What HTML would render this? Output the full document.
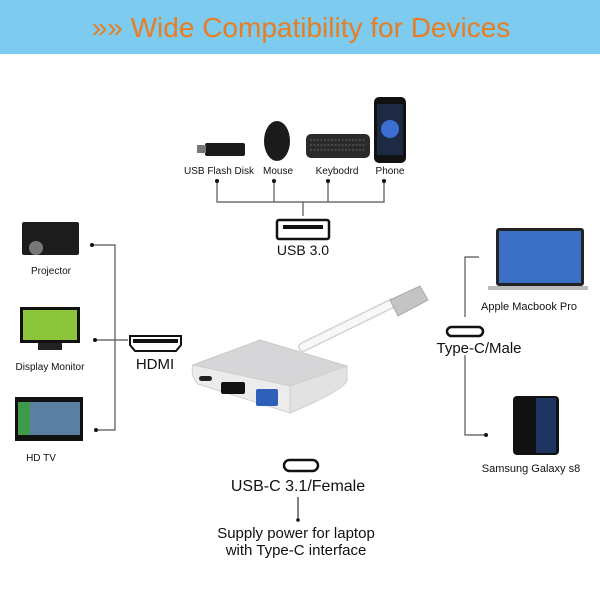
<!DOCTYPE html>
<html><head><meta charset="utf-8"><style>
html,body{margin:0;padding:0;background:#fff;}
svg{display:block;}
text{font-family:"Liberation Sans",sans-serif;}
</style></head><body>
<svg width="600" height="600" viewBox="0 0 600 600" xmlns="http://www.w3.org/2000/svg">
<rect x="0" y="0" width="600" height="600" fill="#fff"/>
<rect x="0" y="0" width="600" height="54" fill="#7dcbef"/>
<text x="301" y="37" text-anchor="middle" font-size="28" fill="#e87d22">&#187;&#187; Wide Compatibility for Devices</text>

<!-- top devices -->
<g>
<rect x="205" y="143" width="40" height="13" rx="2" fill="#1a1a1a"/>
<rect x="197" y="145" width="9" height="8" fill="#777"/>
<ellipse cx="277" cy="141" rx="13" ry="20" fill="#1b1b1b"/>
<rect x="306" y="134" width="64" height="24" rx="5" fill="#2a2a2a"/>
<path d="M310 140H366M310 145H366M310 150H366" stroke="#666" stroke-width="1" stroke-dasharray="2 1.5"/>
<rect x="374" y="97" width="32" height="66" rx="5" fill="#111"/>
<rect x="377" y="104" width="26" height="51" fill="#1e2a44"/>
<circle cx="390" cy="129" r="9" fill="#3b6fd4"/>
</g>
<g font-size="10" fill="#111" text-anchor="middle">
<text x="219" y="174">USB Flash Disk</text>
<text x="278" y="174">Mouse</text>
<text x="337" y="174">Keybodrd</text>
<text x="390" y="174">Phone</text>
</g>
<g stroke="#555" stroke-width="1.2" fill="none">
<path d="M217 181V202H384V181M274 181V202M328 181V202M303 202V216"/>
</g>
<g fill="#111"><circle cx="217" cy="181" r="2"/><circle cx="274" cy="181" r="2"/><circle cx="328" cy="181" r="2"/><circle cx="384" cy="181" r="2"/></g>
<rect x="277" y="220" width="52" height="19" rx="2" fill="none" stroke="#111" stroke-width="2.5"/>
<rect x="283" y="225" width="40" height="4" fill="#111"/>
<text x="303" y="255" text-anchor="middle" font-size="14" fill="#111">USB 3.0</text>

<!-- left devices -->
<rect x="22" y="222" width="57" height="33" rx="2" fill="#1c1c1c"/>
<circle cx="36" cy="248" r="7" fill="#777"/>
<rect x="20" y="307" width="60" height="36" fill="#111"/>
<rect x="23" y="310" width="54" height="30" fill="#8cc43a"/>
<rect x="38" y="343" width="24" height="7" fill="#222"/>
<rect x="15" y="397" width="68" height="44" fill="#111"/>
<rect x="18" y="402" width="62" height="33" fill="#5a7fa0"/>
<rect x="18" y="402" width="12" height="33" fill="#3c9a48"/>
<g font-size="10" fill="#111" text-anchor="middle">
<text x="51" y="274">Projector</text>
<text x="50" y="370">Display Monitor</text>
<text x="41" y="461">HD TV</text>
</g>
<path d="M92 245H115V430H96M95 340H128" stroke="#555" stroke-width="1.2" fill="none"/>
<g fill="#111"><circle cx="92" cy="245" r="2"/><circle cx="95" cy="340" r="2"/><circle cx="96" cy="430" r="2"/></g>
<path d="M130 336H181V345L176 351H135L130 345Z" fill="none" stroke="#111" stroke-width="2"/>
<rect x="133" y="339" width="45" height="4" fill="#111"/>
<text x="155" y="369" text-anchor="middle" font-size="15" fill="#111">HDMI</text>

<!-- adapter -->
<path d="M303 347L393 303" stroke="#d4d4d4" stroke-width="10" stroke-linecap="round"/>
<path d="M303 347L393 303" stroke="#f8f8f8" stroke-width="7" stroke-linecap="round"/>
<path d="M390 300L420 286L428 300L398 316Z" fill="#c4c4c4" stroke="#aaa"/>
<path d="M193 365L260 340L347 366L290 386Z" fill="#d6d6d8" stroke="#c8c8c8"/>
<path d="M193 365L290 386L290 413L198 384Q190 376 193 365Z" fill="#ececec" stroke="#cfcfcf"/>
<path d="M290 386L347 366L347 380Q345 390 290 413Z" fill="#e2e2e2" stroke="#cfcfcf"/>
<rect x="199" y="376" width="13" height="5" rx="2.5" fill="#222"/>
<rect x="221" y="382" width="24" height="12" rx="2" fill="#111"/>
<rect x="256" y="389" width="22" height="17" rx="2" fill="#2f5fb8"/>

<!-- right devices -->
<rect x="496" y="228" width="88" height="58" rx="3" fill="#222"/>
<rect x="499" y="231" width="82" height="52" fill="#3a6fc4"/>
<rect x="488" y="286" width="100" height="4" fill="#bbb"/>
<rect x="513" y="396" width="46" height="59" rx="4" fill="#111"/>
<rect x="536" y="398" width="20" height="55" fill="#1d3560"/>
<g font-size="11" fill="#111" text-anchor="middle">
<text x="529" y="310">Apple Macbook Pro</text>
<text x="531" y="472">Samsung Galaxy s8</text>
</g>
<path d="M479 257H465V317M465 355V435H486" stroke="#555" stroke-width="1.2" fill="none"/>
<circle cx="486" cy="435" r="2" fill="#111"/>
<rect x="447" y="327" width="36" height="9" rx="4.5" fill="none" stroke="#111" stroke-width="2.5"/>
<text x="479" y="353" text-anchor="middle" font-size="15" fill="#111">Type-C/Male</text>

<!-- bottom -->
<rect x="284" y="460" width="34" height="11" rx="5.5" fill="none" stroke="#111" stroke-width="2.5"/>
<text x="298" y="491" text-anchor="middle" font-size="16" fill="#111">USB-C 3.1/Female</text>
<path d="M298 497V520" stroke="#333" stroke-width="1.2"/>
<circle cx="298" cy="520" r="1.8" fill="#111"/>
<text x="296" y="538" text-anchor="middle" font-size="15" fill="#111">Supply power for laptop</text>
<text x="296" y="555" text-anchor="middle" font-size="15" fill="#111">with Type-C interface</text>
</svg>
</body></html>
